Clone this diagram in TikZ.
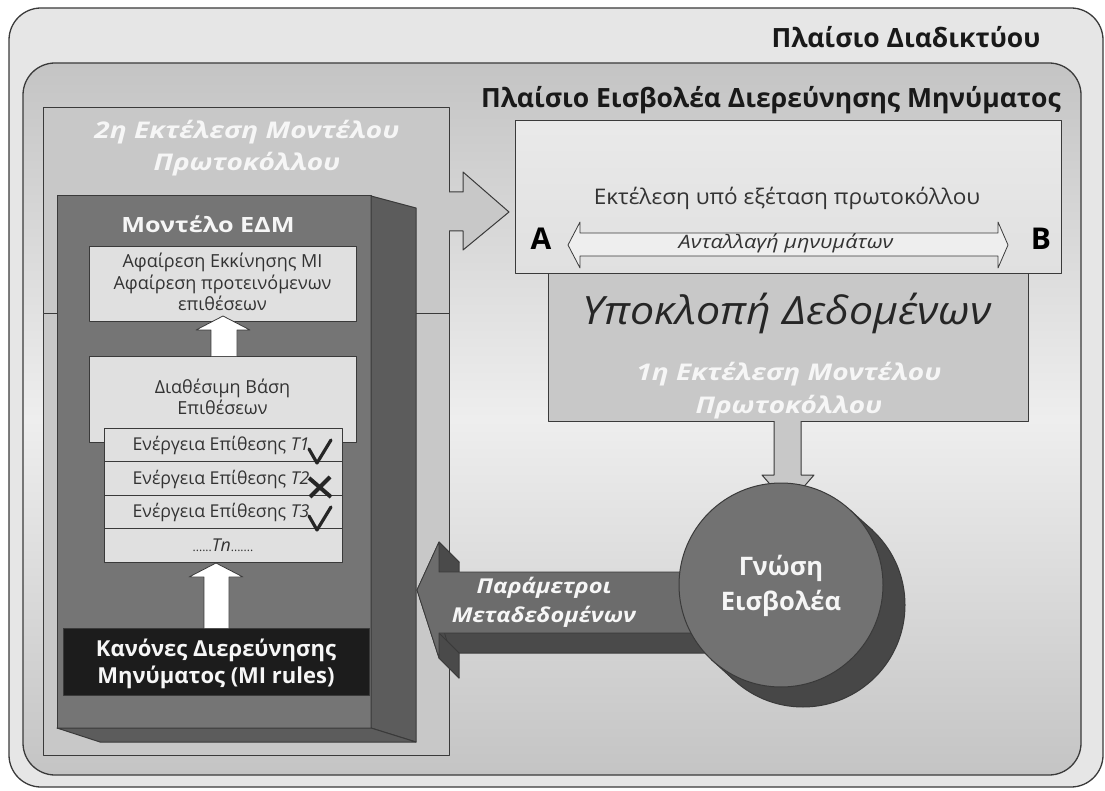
\documentclass[tikz,border=0pt]{standalone}
\usepackage{graphicx}
\usepackage{fontspec}
\setmainfont{Open Sans}
\usetikzlibrary{calc}

\definecolor{edge}{HTML}{3A3A3A}
\definecolor{outerfill}{HTML}{E6E6E6}
\definecolor{framegray}{HTML}{C4C4C4}
\definecolor{framelight}{HTML}{EEEEEE}
\definecolor{panel}{HTML}{C8C8C8}
\definecolor{boxfill}{HTML}{E0E0E0}
\definecolor{blockfront}{HTML}{757575}
\definecolor{blockside}{HTML}{5C5C5C}
\definecolor{ruledark}{HTML}{1C1C1C}
\definecolor{discfront}{HTML}{727272}
\definecolor{discback}{HTML}{474747}
\definecolor{arrowfront}{HTML}{6C6C6C}
\definecolor{arrowside}{HTML}{4A4A4A}
\definecolor{softwhite}{HTML}{F6F6F6}

\newcommand\fsz[1]{\fontsize{#1}{#1}\selectfont}
\newcommand\widen[2]{\scalebox{#1}[1]{#2}}

\tikzset{
  every node/.style={inner sep=0pt, outer sep=0pt},
  framebox/.style={draw=edge, line width=1.3pt, rounded corners=32pt},
  plainbox/.style={draw=edge, line width=1pt},
  lightbox/.style={plainbox, fill=boxfill},
  rowbox/.style={plainbox, fill=boxfill, minimum width=238pt, minimum height=33.5pt},
  whitearrow/.style={fill=white, draw=edge, line width=0.8pt},
  greyarrow/.style={fill=panel, draw=edge, line width=1pt},
  sideface/.style={fill=arrowside, draw=edge, line width=0.8pt},
  txt/.style={anchor=base, align=center},
  boxtext/.style={txt, font=\fsz{18}, text=black!80},
  rowtext/.style={txt, font=\fsz{17.7}, text=black!80},
  runtext/.style={txt, font=\fsz{23}\bfseries\itshape, text=softwhite},
  tickmark/.style={line width=3.2pt, draw=black!85, line cap=round}
}

\begin{document}
\begin{tikzpicture}[x=1pt, y=-1pt, line join=round]
\useasboundingbox (0,0) rectangle (1105,791);

% outer frame: internet context
\node[framebox, fill=outerfill, minimum width=1094pt, minimum height=779pt] (web) at (556,397.5) {};
\node[txt, font=\fsz{26.5}\bfseries, text=black!90] (webtitle) at (906,48) {Πλαίσιο Διαδικτύου};

% inner frame: message-inspection attacker context
\node[framebox, top color=framegray, bottom color=framegray, middle color=framelight,
      minimum width=1058pt, minimum height=712pt] (mi) at (552,419) {};
\node[txt, font=\fsz{26.5}\bfseries, text=black!90] (mititle) at (771,108) {Πλαίσιο Εισβολέα Διερεύνησης Μηνύματος};

% second run panel
\node[plainbox, fill=panel, minimum width=406pt, minimum height=441pt] (proto2low) at (246,534.5) {};
\node[plainbox, fill=panel, minimum width=406pt, minimum height=206pt] (proto2) at (246,211) {};
\node[runtext] (proto2a) at (247,139) {\widen{1.22}{2η Εκτέλεση Μοντέλου}};
\node[runtext] (proto2b) at (247,171) {\widen{1.22}{Πρωτοκόλλου}};

% extruded model block
\node[plainbox, fill=blockfront, minimum width=314pt, minimum height=532pt] (edm) at (214,462) {};
\coordinate (edmtr) at (416,208);
\coordinate (edmbr) at (416,742);
\coordinate (edmbl) at (100,742);
\draw[plainbox, fill=blockside] (edm.north east) -- (edmtr) -- (edmbr) -- (edm.south east) -- cycle;
\draw[plainbox, fill=blockside] (edm.south west) -- (edmbl) -- (edmbr) -- (edm.south east) -- cycle;
\node[txt, font=\fsz{21}\bfseries, text=softwhite] (edmtitle) at (208,233) {\widen{1.2}{Μοντέλο ΕΔΜ}};

% abstraction box
\node[lightbox, minimum width=267pt, minimum height=75pt] (abstr) at (222.5,284.5) {};
\node[boxtext] (abstr1) at (222.5,268) {Αφαίρεση Εκκίνησης ΜΙ};
\node[boxtext] (abstr2) at (222.5,289.5) {Αφαίρεση προτεινόμενων};
\node[boxtext] (abstr3) at (222.5,311) {επιθέσεων};

% attack base and actions
\node[lightbox, minimum width=267pt, minimum height=86pt] (base) at (222.5,399) {};
\node[boxtext] (base1) at (222.5,393) {Διαθέσιμη Βάση};
\node[boxtext] (base2) at (222.5,414) {Επιθέσεων};

\node[rowbox] (t1) at (223,444.75) {};
\node[rowbox] (t2) at (223,478.25) {};
\node[rowbox] (t3) at (223,511.75) {};
\node[rowbox] (tn) at (223,545.25) {};
\node[rowtext] (t1text) at ($(t1.center)+(-2,6)$) {Ενέργεια Επίθεσης \textit{T1}};
\node[rowtext] (t2text) at ($(t2.center)+(-2,6)$) {Ενέργεια Επίθεσης \textit{T2}};
\node[rowtext] (t3text) at ($(t3.center)+(-2,6)$) {Ενέργεια Επίθεσης \textit{T3}};
\node[rowtext] (tntext) at ($(tn.center)+(0,6)$) {{\fsz{12}......}\textit{Tn}{\fsz{12}.......}};

% accepted / rejected marks
\draw[tickmark] (309,449) -- (317,463) -- (331,440);
\draw[tickmark, line width=4pt, line cap=butt] (309,478) -- (331,497);
\draw[tickmark, line width=4pt, line cap=butt] (330,477) -- (310,497);
\draw[tickmark] (309,516) -- (317,530) -- (331,507);

% rules box
\node[plainbox, fill=ruledark, minimum width=306pt, minimum height=67pt] (rules) at (216,661.5) {};
\node[txt, font=\fsz{22}\bfseries, text=softwhite] (rules1) at (216,656.5) {Κανόνες Διερεύνησης};
\node[txt, font=\fsz{22}\bfseries, text=softwhite] (rules2) at (216,683) {Μηνύματος (MI rules)};

% white arrows inside the block
\draw[whitearrow] (base.north -| 211,0) -- (211,330) -- (196,330) -- (223,316) -- (250,330) -- (237,330) -- (base.north -| 237,0);
\draw[whitearrow] (rules.north -| 204,0) -- (204,577) -- (189,577) -- (216,563) -- (243,577) -- (229,577) -- (rules.north -| 229,0);

% protocol execution under test
\node[plainbox, fill=panel, minimum width=480pt, minimum height=147pt] (intercept) at (788,347.5) {};
\node[plainbox, top color=boxfill!70!white, bottom color=boxfill, minimum width=546pt, minimum height=153pt] (exec) at (788,197.5) {};
\node[txt, font=\fsz{21.5}, text=black!80] (exectitle) at (787,205) {\widen{1.05}{Εκτέλεση υπό εξέταση πρωτοκόλλου}};
\node[txt, font=\fsz{30}\bfseries] (pa) at (541,250) {A};
\node[txt, font=\fsz{30}\bfseries] (pb) at (1041,250) {B};
\draw[fill=framelight, draw=edge, line width=0.8pt]
  (568,245) -- (580,222) -- (580,233) -- (998,233) -- (998,222) -- (1008,245)
  -- (998,268) -- (998,256) -- (580,256) -- (580,268) -- cycle;
\node[txt, font=\fsz{18.5}\itshape, text=black!80] (exchange) at (786,249) {\widen{1.17}{Ανταλλαγή μηνυμάτων}};

\node[txt, font=\fsz{39}\itshape, text=black!85] (intercepttext) at (787,325) {\widen{1.1}{Υποκλοπή Δεδομένων}};
\node[runtext] (proto1a) at (789,380) {\widen{1.22}{1η Εκτέλεση Μοντέλου}};
\node[runtext] (proto1b) at (789,413) {\widen{1.22}{Πρωτοκόλλου}};

% block arrow from the second run to the execution
\fill[panel] (proto2.east |- 0,192) -- (463,192) -- (463,172) -- (509,212) -- (463,250) -- (463,231) -- (proto2.east |- 0,231) -- cycle;
\draw[edge, line width=1pt] (proto2.east |- 0,192) -- (463,192) -- (463,172) -- (509,212) -- (463,250) -- (463,231) -- (proto2.east |- 0,231);

% block arrow from the interception to the knowledge disc
\draw[greyarrow] (intercept.south -| 774,0) -- (774,475) -- (762,475) -- (788,505) -- (814,475) -- (801,475) -- (intercept.south -| 801,0);

% extruded arrow carrying metadata parameters
\draw[sideface] (437,610) -- (459,562) -- (459,592) -- (740,592) -- (740,653) -- (459,653) -- (459,678) -- cycle;
\draw[sideface] (417,590) -- (439,542) -- (459,562) -- (437,610) -- cycle;
\draw[sideface] (439,542) -- (439,572) -- (459,592) -- (459,562) -- cycle;
\draw[sideface] (439,633) -- (720,633) -- (740,653) -- (459,653) -- cycle;
\draw[sideface] (417,590) -- (439,658) -- (459,678) -- (437,610) -- cycle;
\draw[sideface] (439,633) -- (439,658) -- (459,678) -- (459,653) -- cycle;
\draw[fill=arrowfront, draw=edge, line width=0.8pt]
  (417,590) -- (439,542) -- (439,572) -- (720,572) -- (720,633) -- (439,633) -- (439,658) -- cycle;
\node[txt, font=\fsz{20.5}\bfseries\itshape, text=softwhite] (params1) at (544,593) {\widen{1.16}{Παράμετροι}};
\node[txt, font=\fsz{20.5}\bfseries\itshape, text=softwhite] (params2) at (544,622) {\widen{1.15}{Μεταδεδομένων}};

% attacker knowledge disc
\node[circle, draw=edge, line width=1pt, fill=discback, minimum size=204pt] (knowback) at (803,605) {};
\node[circle, minimum size=204pt] (know) at (781,585) {};
\fill[discback] (know.47.7) -- (knowback.47.7) -- (knowback.227.7) -- (know.227.7) -- cycle;
\draw[edge, line width=1pt] (know.47.7) -- (knowback.47.7);
\draw[edge, line width=1pt] (know.227.7) -- (knowback.227.7);
\node[circle, draw=edge, line width=1pt, fill=discfront, minimum size=204pt] (knowfront) at (know) {};
\node[txt, font=\fsz{25.5}\bfseries, text=softwhite] (know1) at (781,575) {Γνώση};
\node[txt, font=\fsz{25.5}\bfseries, text=softwhite] (know2) at (781,610) {Εισβολέα};
\end{tikzpicture}
\end{document}
